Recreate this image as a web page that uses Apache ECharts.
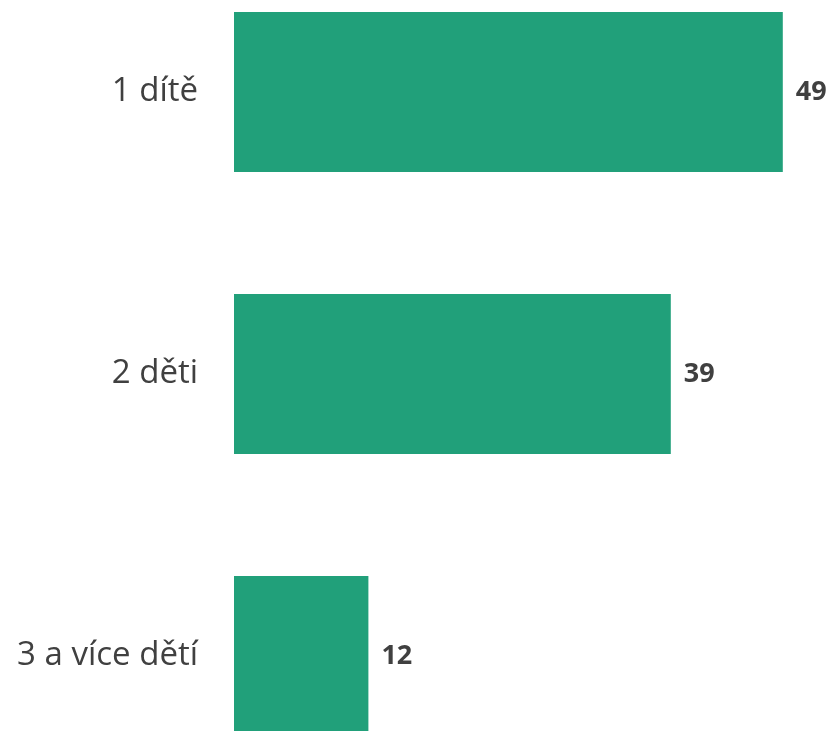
<!DOCTYPE html>
<html><head><meta charset="utf-8">
<script src="https://cdn.jsdelivr.net/npm/echarts@6/dist/echarts.min.js"></script>
<style>html,body{margin:0;padding:0;background:#fff;overflow:hidden}#c{position:absolute;left:0;top:-49px;width:836px;height:846px}</style>
</head><body><div id="c"></div>
<script>
const categories = ["1 dítě", "2 děti", "3 a více dětí"];
const values = [49, 39, 12];

const chart = echarts.init(document.getElementById('c'));
chart.setOption({
  animation: false,
  grid: { left: 234, right: 42, top: 0, bottom: 0, containLabel: false },
  xAxis: { type: 'value', min: 0, max: 50, show: false },
  yAxis: {
    type: 'category', data: categories, inverse: true,
    axisLine: { show: false }, axisTick: { show: false },
    axisLabel: { margin: 36, fontSize: 33, color: '#404040', fontFamily: 'Open Sans' }
  },
  series: [{
    type: 'bar', data: values, barWidth: 160,
    itemStyle: { color: '#21A07A' },
    label: { show: true, position: 'right', distance: 13, fontSize: 27, fontWeight: 'bold', color: '#404040', fontFamily: 'Open Sans' }
  }]
});
</script></body></html>
